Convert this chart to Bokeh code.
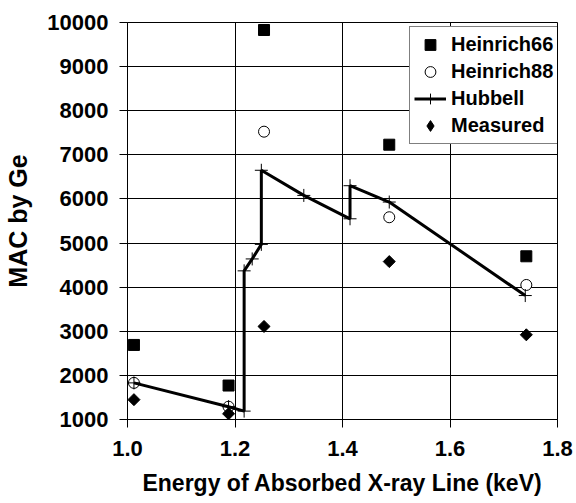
import math
from bokeh.plotting import figure
from bokeh.models import FixedTicker, Legend, LegendItem, NumeralTickFormatter
from bokeh.embed import file_html
from bokeh.resources import INLINE

# ---- data ----
energy = [1.012, 1.188, 1.254, 1.487, 1.742]
heinrich66 = [2690, 1770, 9830, 7230, 4700]
heinrich88 = [1830, 1290, 7525, 5585, 4050]
measured = [1450, 1130, 3110, 4580, 2920]

hub_x = [1.012, 1.188, 1.217, 1.217, 1.232, 1.249, 1.249, 1.328, 1.414, 1.414, 1.487, 1.740]
hub_y = [1830, 1290, 1190, 4370, 4640, 4970, 6650, 6080, 5550, 6300, 5930, 3810]

x_ticks = [1.0, 1.2, 1.4, 1.6, 1.8]
y_ticks = [1000, 2000, 3000, 4000, 5000, 6000, 7000, 8000, 9000, 10000]

FONT = "Liberation Sans"

p = figure(width=576, height=503, x_range=(1.0, 1.8), y_range=(1000, 10000),
           output_backend="svg", toolbar_location=None,
           min_border_left=127, min_border_top=22, min_border_right=19, min_border_bottom=84)
p.outline_line_color = "black"
p.background_fill_color = "white"
p.border_fill_color = "white"

p.xaxis.ticker = FixedTicker(ticks=x_ticks)
p.yaxis.ticker = FixedTicker(ticks=y_ticks)
p.xaxis.formatter = NumeralTickFormatter(format="0.0")
p.yaxis.formatter = NumeralTickFormatter(format="0")
p.xgrid.ticker = FixedTicker(ticks=x_ticks)
p.ygrid.ticker = FixedTicker(ticks=y_ticks)
for g in (p.xgrid, p.ygrid):
    g.grid_line_color = "black"
    g.grid_line_width = 1

for ax in (p.xaxis, p.yaxis):
    ax.axis_line_color = "black"
    ax.axis_line_width = 1
    ax.major_tick_line_color = "black"
    ax.major_tick_out = 8
    ax.major_tick_in = 0
    ax.minor_tick_line_color = None
    ax.major_label_text_font = FONT
    ax.major_label_text_font_style = "bold"
    ax.major_label_text_font_size = "22px"
    ax.major_label_text_color = "black"
    ax.axis_label_text_font = FONT
    ax.axis_label_text_font_style = "bold"
    ax.axis_label_text_color = "black"

p.xaxis.axis_label = "Energy of Absorbed X-ray Line (keV)"
p.yaxis.axis_label = "MAC by Ge"
p.xaxis.axis_label_text_font_size = "23px"
p.yaxis.axis_label_text_font_size = "25px"
p.xaxis.major_label_standoff = 13
p.yaxis.major_label_standoff = 11
p.xaxis.axis_label_standoff = 11
p.yaxis.axis_label_standoff = 12

r66 = p.scatter(energy, heinrich66, marker="square", size=11, fill_color="black", line_color="black")
r88 = p.scatter(energy, heinrich88, marker="circle", size=11, fill_color="white", line_color="black", line_width=1)
rline = p.line(hub_x, hub_y, line_color="black", line_width=3)
rcross = p.scatter(hub_x, hub_y, marker="cross", size=13, line_color="black", line_width=1)
# diamond used for the legend key (legend glyphs are never rotated); hidden beneath the rotated squares
rmeas_key = p.scatter(energy, measured, marker="diamond", size=10, fill_color="black", line_color="black")
rmeas = p.scatter(energy, measured, marker="square", angle=math.pi / 4, size=8.5,
                  fill_color="black", line_color="black")

legend = Legend(items=[
    LegendItem(label="Heinrich66", renderers=[r66]),
    LegendItem(label="Heinrich88", renderers=[r88]),
    LegendItem(label="Hubbell", renderers=[rline, rcross]),
    LegendItem(label="Measured", renderers=[rmeas_key]),
], location=(282, 275))
legend.label_text_font = FONT
legend.label_text_font_style = "bold"
legend.label_text_font_size = "20px"
legend.label_text_color = "black"
legend.border_line_color = "black"
legend.border_line_width = 1
legend.background_fill_color = "white"
legend.background_fill_alpha = 1
legend.padding = 4
legend.spacing = 0
legend.margin = 0
legend.glyph_width = 32
legend.glyph_height = 27
legend.label_height = 27
legend.label_standoff = 5
p.add_layout(legend, "center")

open("out.html", "w").write(file_html(p, INLINE))
